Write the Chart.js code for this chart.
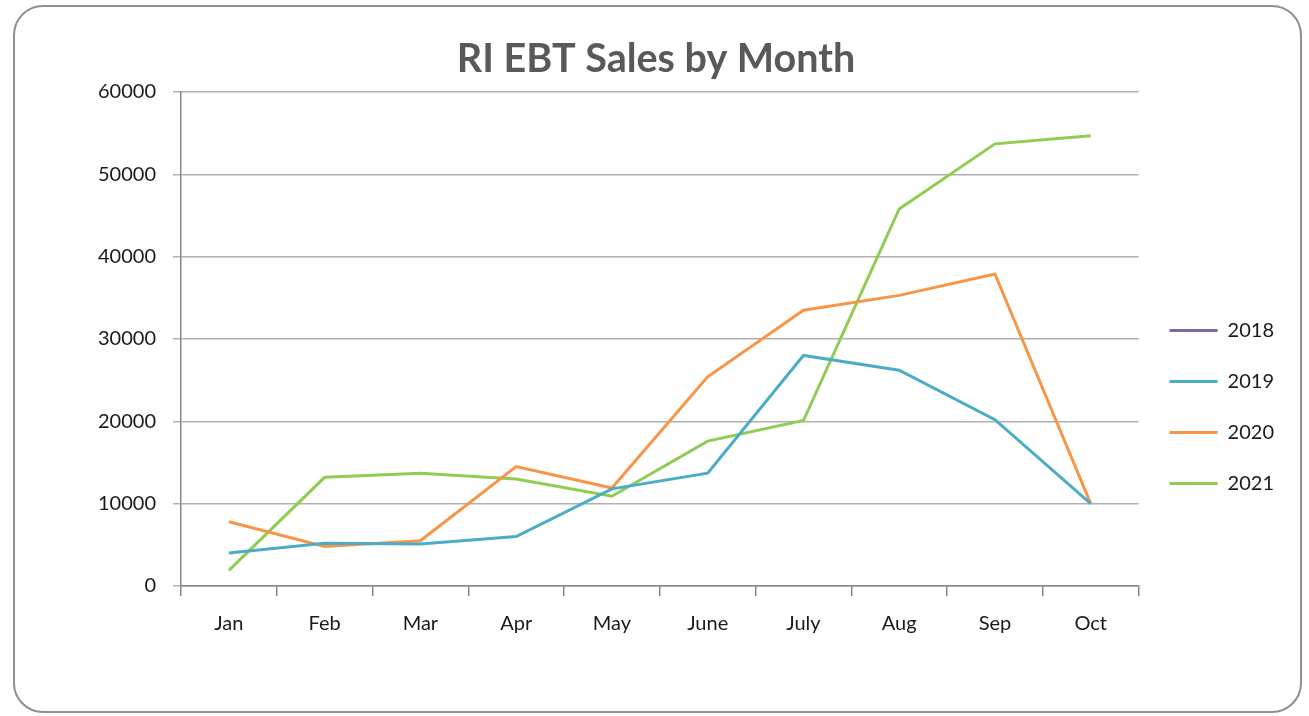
<!DOCTYPE html>
<html>
<head>
<meta charset="utf-8">
<title>RI EBT Sales by Month</title>
<script src="https://cdn.jsdelivr.net/npm/chart.js@4/dist/chart.umd.min.js"></script>
<style>
  html, body { margin: 0; padding: 0; background: #ffffff; }
  #frame {
    position: absolute; left: 13px; top: 5px; width: 1289px; height: 708px;
    box-sizing: border-box; border: 2px solid #8f8f8f; border-radius: 30px;
  }
  #salesChart { position: absolute; left: 0; top: 0; }
</style>
</head>
<body>
<div id="frame"></div>
<canvas id="salesChart" width="1309" height="716"></canvas>
<script>
// Chart data
const months = ["Jan", "Feb", "Mar", "Apr", "May", "June", "July", "Aug", "Sep", "Oct"];
const sales2018 = []; // listed in the legend, no line drawn
const sales2019 = [4000, 5200, 5100, 6000, 11800, 13700, 28000, 26200, 20200, 10000];
const sales2020 = [7800, 4800, 5500, 14500, 11900, 25400, 33500, 35300, 37900, 10000];
const sales2021 = [1900, 13200, 13700, 13000, 10900, 17600, 20100, 45800, 53700, 54700];

const FONT = "Lato, 'Open Sans', sans-serif";

function series(label, data, color) {
  return {
    label,
    data,
    borderColor: color,
    backgroundColor: color,
    borderWidth: 3,
    pointRadius: 0,
    pointHoverRadius: 0,
    tension: 0,
    fill: false
  };
}

new Chart(document.getElementById("salesChart"), {
  type: "line",
  data: {
    labels: months,
    datasets: [
      series("2018", sales2018, "#8064a2"),
      series("2019", sales2019, "#4bacc6"),
      series("2020", sales2020, "#f79646"),
      series("2021", sales2021, "#8fcc52")
    ]
  },
  options: {
    responsive: false,
    animation: false,
    layout: { padding: { left: 28, right: 25, top: 0, bottom: 0 } },
    plugins: {
      title: {
        display: true,
        text: "RI EBT Sales by Month",
        color: "#595959",
        font: { family: FONT, size: 39.5, weight: "bold" },
        padding: { top: 36, bottom: 8.6 }
      },
      legend: {
        position: "right",
        // empty legend title only pushes the entries down
        title: { display: true, text: "", font: { size: 10 }, padding: { top: 86, bottom: 0 } },
        labels: {
          usePointStyle: true,
          pointStyle: "line",
          pointStyleWidth: 48,
          padding: 31,
          color: "#1a1a1a",
          font: { family: FONT, size: 20 }
        }
      },
      tooltip: { enabled: false }
    },
    scales: {
      x: {
        offset: true,
        afterFit: s => { s.height = 130; },
        grid: { offset: true, drawOnChartArea: false, tickLength: 10, color: "#868686", lineWidth: 1.5 },
        border: { color: "#868686", width: 1.5 },
        ticks: { color: "#1a1a1a", padding: 16, font: { family: FONT, size: 20 } }
      },
      y: {
        min: 0,
        max: 60000,
        afterFit: s => { s.width = 153; },
        grid: { tickLength: 8, color: "#b0b0b0", lineWidth: 1.5 },
        border: { color: "#868686", width: 1.5 },
        ticks: {
          stepSize: 10000,
          padding: 17,
          color: "#1a1a1a",
          font: { family: FONT, size: 20 },
          callback: v => String(v)
        }
      }
    }
  }
});
</script>
</body>
</html>
